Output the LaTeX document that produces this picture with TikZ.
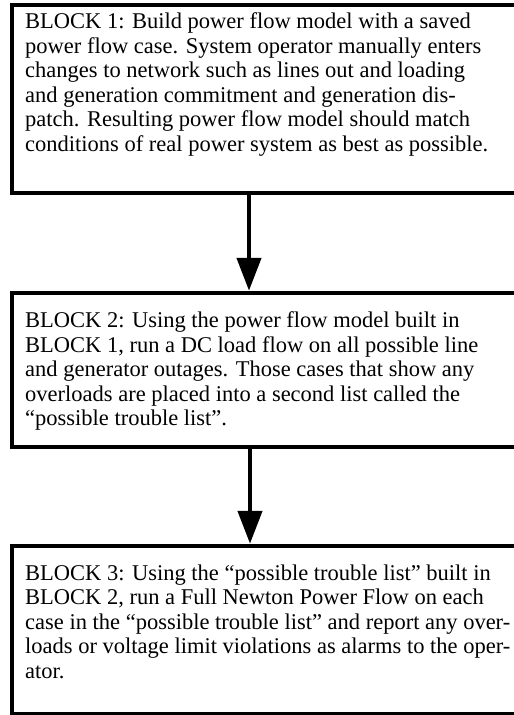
\documentclass[tikz,border=0pt]{standalone}
\usepackage{fontspec}
\setmainfont{Liberation Serif}
\usetikzlibrary{arrows.meta}
\begin{document}
\begin{tikzpicture}[x=1pt, y=-1pt,
	blockbox/.style={draw, line width=4.5pt, minimum width=528pt, inner sep=0pt},
	blocktext/.style={anchor=north west, inner sep=0pt, align=left, font=\fontsize{22.5}{24.5}\selectfont},
	flow/.style={line width=4.5pt, -{Triangle[length=33pt, width=24pt]}}]
	\clip (0,0) rectangle (514,715);
	\def\bx{276}
	\def\tx{25}
	\node[blockbox, minimum height=188pt] (b1) at (\bx,99) {};
	\node[blockbox, minimum height=154pt] (b2) at (\bx,370) {};
	\node[blockbox, minimum height=168pt] (b3) at (\bx,630) {};
	
	\node[blocktext] (t1) at (\tx,12.6) {BLOCK 1: Build power flow model with a saved\\
		power flow case. System operator manually enters\\
		changes to network such as lines out and loading\\
		and generation commitment and generation dis-\\
		patch. Resulting power flow model should match\\
		conditions of real power system as best as possible.};
	\node[blocktext] (t2) at (\tx,311.6) {BLOCK 2: Using the power flow model built in\\
		BLOCK 1, run a DC load flow on all possible line\\
		and generator outages. Those cases that show any\\
		overloads are placed into a second list called the\\
		“possible trouble list”.};
	\node[blocktext] (t3) at (\tx,564.6) {BLOCK 3: Using the “possible trouble list” built in\\
		BLOCK 2, run a Full Newton Power Flow on each\\
		case in the “possible trouble list” and report any over-\\
		loads or voltage limit violations as alarms to the oper-\\
		ator.};
	
	\draw[flow] ([xshift=-27pt]b1.south) -- ([xshift=-27pt]b2.north);
	\draw[flow] ([xshift=-26pt]b2.south) -- ([xshift=-26pt]b3.north);
\end{tikzpicture}
\end{document}
